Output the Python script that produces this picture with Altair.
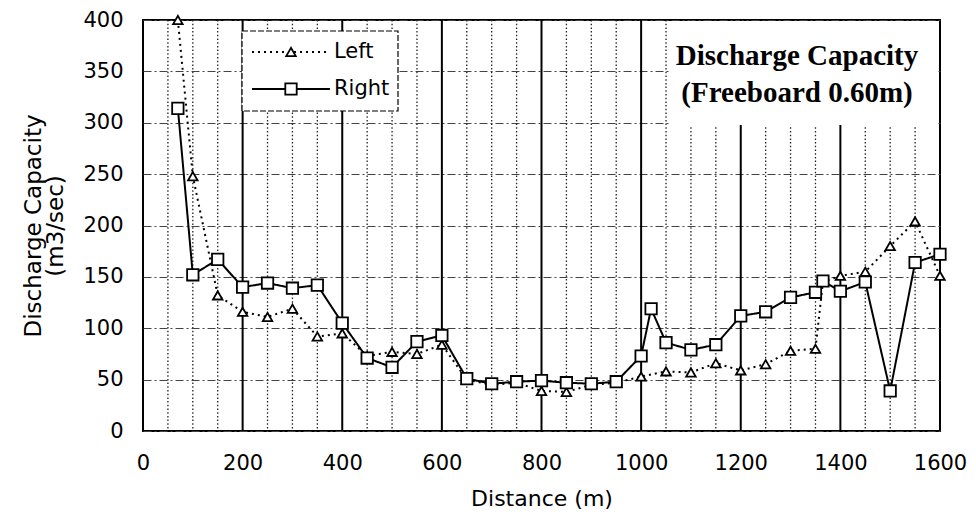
import altair as alt
import pandas as pd

# ---- data ----
distance = [70, 100, 150, 200, 250, 300, 350, 400, 450, 500, 550, 600, 650, 700, 750,
            800, 850, 900, 950, 1000, 1020, 1050, 1100, 1150, 1200, 1250, 1300, 1350,
            1365, 1400, 1450, 1500, 1550, 1600]
left = [400, 248, 132, 116, 111, 119, 92, 95, 73, 77, 75, 84, 50, 45, 47,
        39, 38, 45, 47, 53, None, 58, 57, 66, 59, 65, 78, 80,
        145, 151, 155, 180, 204, 151]
right = [314, 152, 167, 140, 144, 139, 142, 105, 71, 62, 87, 93, 51, 46, 48,
         49, 47, 46, 48, 73, 119, 86, 79, 84, 112, 116, 130, 135,
         146, 136, 145, 39, 164, 172]

series_names = ["Left", "Right"]
x_ticks = [0, 200, 400, 600, 800, 1000, 1200, 1400, 1600]
x_major_lines = [200, 400, 600, 800, 1000, 1200, 1400]
x_minor_lines = [v for v in range(50, 1600, 50) if v % 200 != 0]
y_ticks = [0, 50, 100, 150, 200, 250, 300, 350, 400]

rows = []
for d, l, r in zip(distance, left, right):
    if l is not None:
        rows.append({"distance": d, "value": l, "series": "Left"})
    if r is not None:
        rows.append({"distance": d, "value": r, "series": "Right"})
df = pd.DataFrame(rows)

FONT = "DejaVu Sans"

xscale = alt.Scale(domain=[0, 1600], nice=False)
yscale = alt.Scale(domain=[0, 400], nice=False)

x_enc = alt.X("distance:Q", scale=xscale,
              axis=alt.Axis(values=x_ticks, format="d", title="Distance (m)", grid=False,
                            ticks=False, domain=False, labelPadding=21, labelFlush=False,
                            labelOverlap=False,
                            titlePadding=15, labelFontSize=21, labelFontWeight="normal",
                            titleFontSize=22, titleFontWeight="normal",
                            labelFont=FONT, titleFont=FONT,
                            labelColor="black", titleColor="black"))
y_enc = alt.Y("value:Q", scale=yscale,
              axis=alt.Axis(values=y_ticks, format="d",
                            title=["Discharge Capacity", "(m3/sec)"],
                            grid=True, gridColor="#444", gridDash=[8, 3, 2, 3],
                            gridWidth=1, ticks=False, domain=False,
                            labelPadding=20, labelFlush=False, labelOverlap=False,
                            titlePadding=15,
                            labelFontSize=21, labelFontWeight="normal",
                            titleFontSize=23, titleFontWeight="normal",
                            titleLineHeight=22,
                            labelFont=FONT, titleFont=FONT,
                            labelColor="black", titleColor="black"))

minor = alt.Chart(pd.DataFrame({"x": x_minor_lines})).mark_rule(
    color="#222", strokeWidth=1.3, strokeDash=[1.5, 2.2]
).encode(x=alt.X("x:Q", scale=xscale))

major = alt.Chart(pd.DataFrame({"x": x_major_lines})).mark_rule(
    color="black", strokeWidth=2
).encode(x=alt.X("x:Q", scale=xscale))

one = pd.DataFrame({"a": [0]})

# white box behind the in-plot title
title_bg = alt.Chart(one).mark_rect(fill="white").encode(
    x=alt.value(527), x2=alt.value(795), y=alt.value(1), y2=alt.value(105))

lines = alt.Chart(df).mark_line(color="black", strokeWidth=2).encode(
    x=x_enc, y=y_enc,
    strokeDash=alt.StrokeDash("series:N", scale=alt.Scale(domain=series_names,
                                                          range=[[2, 4], [1, 0]]),
                              legend=None),
    detail="series:N",
    order="distance:Q",
)

points = alt.Chart(df).mark_point(filled=True, fill="white", stroke="black",
                                  strokeWidth=1.8, opacity=1).encode(
    x=alt.X("distance:Q", scale=xscale),
    y=alt.Y("value:Q", scale=yscale),
    shape=alt.Shape("series:N", scale=alt.Scale(domain=series_names,
                                                range=["triangle-up", "square"]),
                    legend=None),
    size=alt.Size("series:N", scale=alt.Scale(domain=series_names, range=[90, 130]),
                  legend=None),
)

legend_box = alt.Chart(one).mark_rect(
    fill="white", stroke="black", strokeWidth=1.2, strokeDash=[6, 2]
).encode(x=alt.value(99), x2=alt.value(255), y=alt.value(11), y2=alt.value(91))

leg_left_line = alt.Chart(one).mark_rule(color="black", strokeWidth=2, strokeDash=[2, 4]).encode(
    x=alt.value(109), x2=alt.value(187), y=alt.value(32))
leg_left_pt = alt.Chart(one).mark_point(shape="triangle-up", size=90, filled=True,
                                        fill="white", stroke="black", strokeWidth=1.8,
                                        opacity=1).encode(
    x=alt.value(148), y=alt.value(32))
leg_left_txt = alt.Chart(one).mark_text(align="left", baseline="middle", font=FONT,
                                        fontSize=21, color="black").encode(
    x=alt.value(191), y=alt.value(32), text=alt.value("Left"))

leg_right_line = alt.Chart(one).mark_rule(color="black", strokeWidth=2).encode(
    x=alt.value(109), x2=alt.value(187), y=alt.value(69))
leg_right_pt = alt.Chart(one).mark_point(shape="square", size=130, filled=True,
                                         fill="white", stroke="black", strokeWidth=1.8,
                                         opacity=1).encode(
    x=alt.value(148), y=alt.value(69))
leg_right_txt = alt.Chart(one).mark_text(align="left", baseline="middle", font=FONT,
                                         fontSize=21, color="black").encode(
    x=alt.value(191), y=alt.value(69), text=alt.value("Right"))

title1 = alt.Chart(one).mark_text(align="center", baseline="middle",
                                  font="Liberation Serif", fontWeight="bold",
                                  fontSize=29, color="black").encode(
    x=alt.value(654), y=alt.value(36), text=alt.value("Discharge Capacity"))
title2 = alt.Chart(one).mark_text(align="center", baseline="middle",
                                  font="Liberation Serif", fontWeight="bold",
                                  fontSize=29, color="black").encode(
    x=alt.value(654), y=alt.value(73), text=alt.value("(Freeboard 0.60m)"))

chart = alt.layer(
    minor, major, title_bg, lines, points,
    legend_box, leg_left_line, leg_left_pt, leg_left_txt,
    leg_right_line, leg_right_pt, leg_right_txt,
    title1, title2,
).properties(
    width=797, height=411,
    padding={"left": 143, "top": 20, "right": 36, "bottom": 87},
    autosize=alt.AutoSizeParams(type="none"),
    background="white",
).configure_view(
    stroke="black", strokeWidth=2
)

chart.save("out.html", embed_options={"renderer": "svg", "actions": False})
